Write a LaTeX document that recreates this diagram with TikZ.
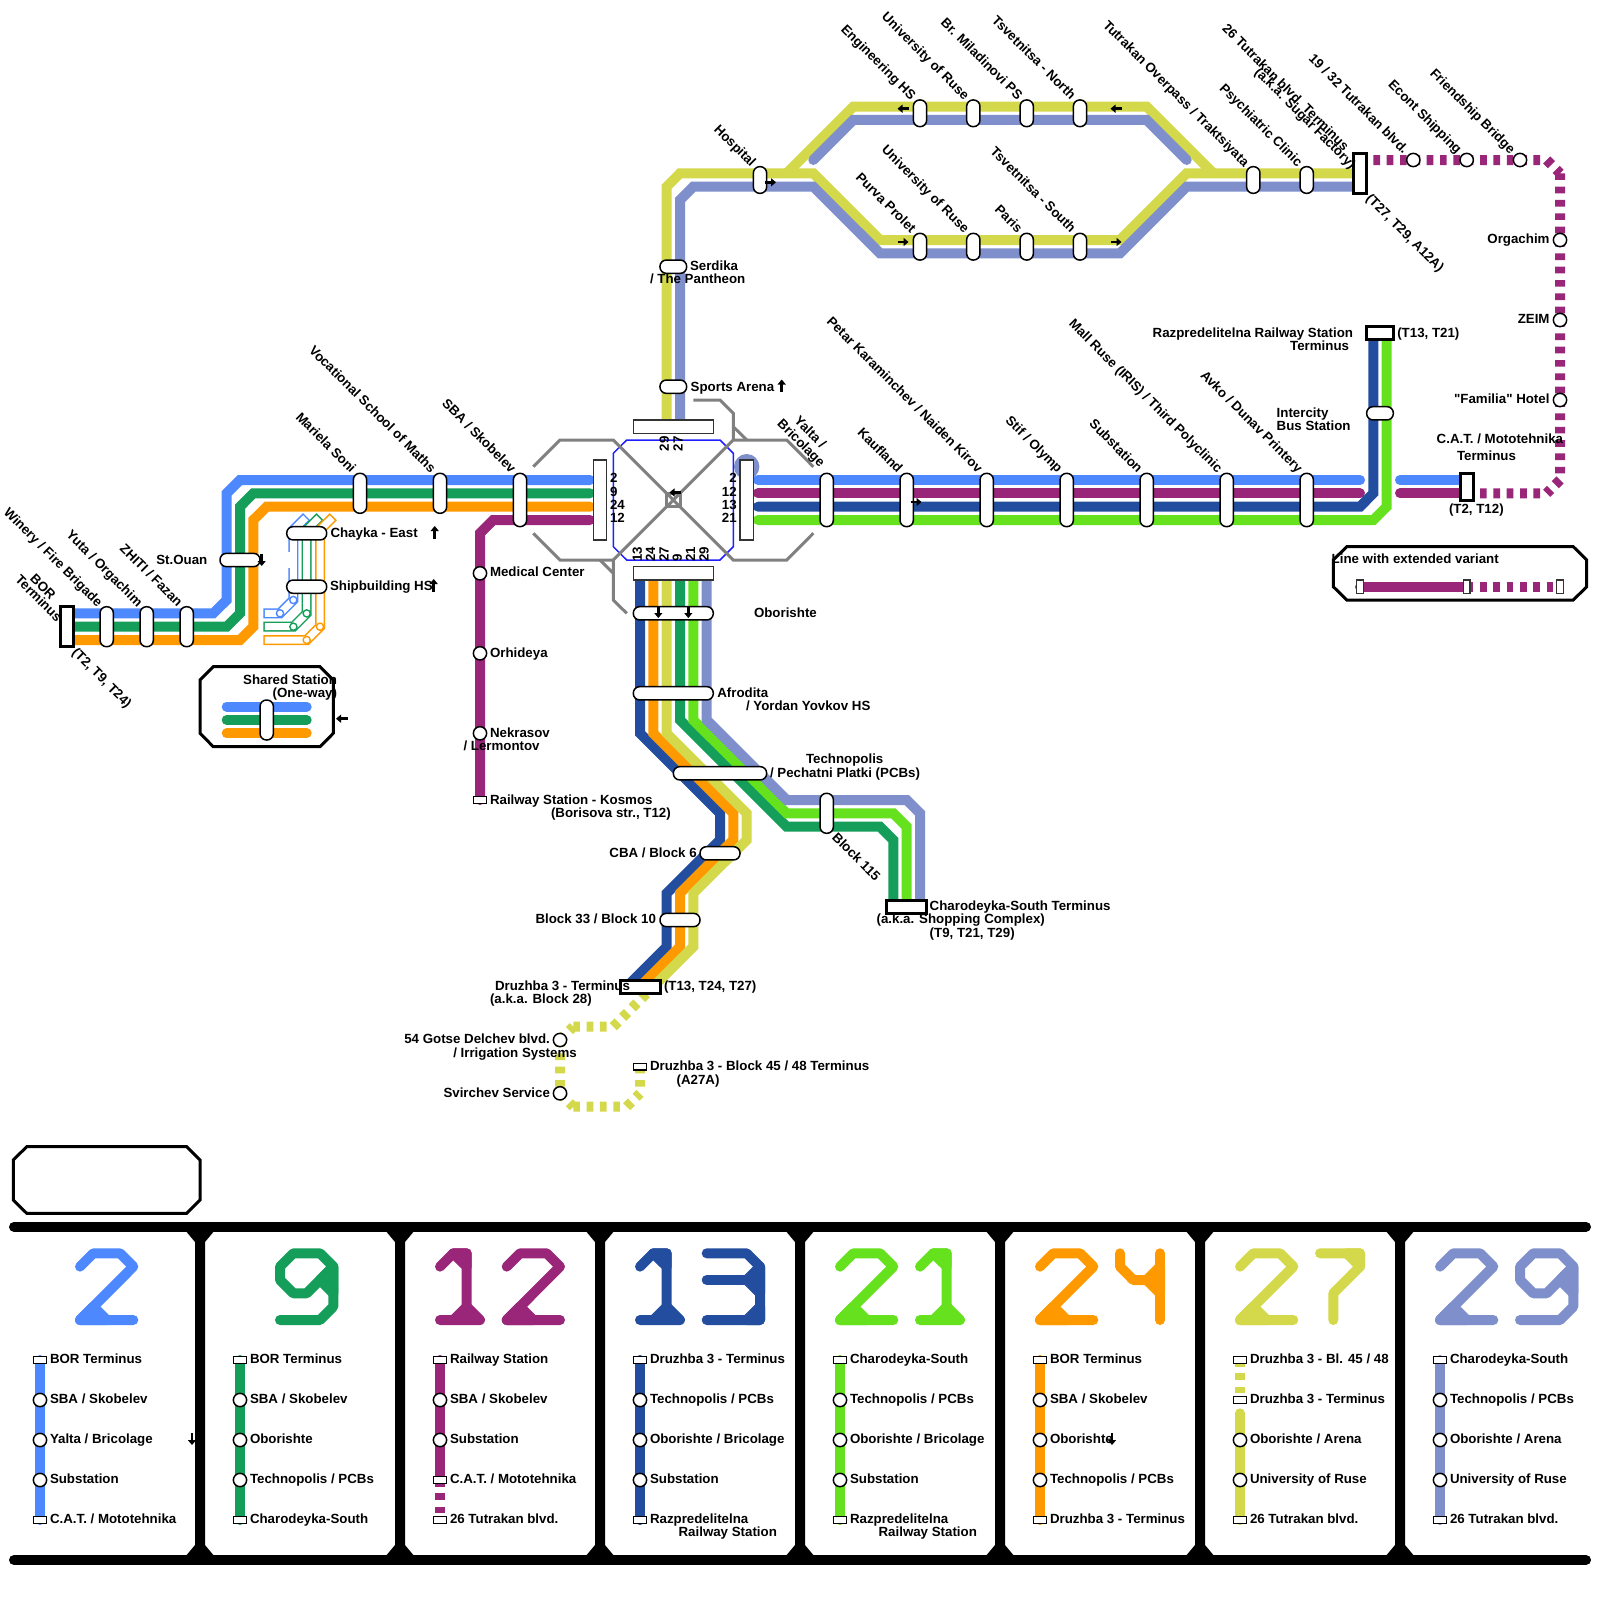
\documentclass[tikz,border=0pt]{standalone}
\usepackage{fontspec}
\setmainfont{Liberation Sans}[Ligatures=TeXOff]
\usepackage{tikz}
\usetikzlibrary{arrows.meta, calc}
\definecolor{cLtwo}{RGB}{77,136,255}
\definecolor{cLnine}{RGB}{21,158,90}
\definecolor{cLtwelve}{RGB}{153,38,120}
\definecolor{cLthirteen}{RGB}{35,78,160}
\definecolor{cLtwentyone}{RGB}{102,225,30}
\definecolor{cLtwentyfour}{RGB}{255,153,0}
\definecolor{cLtwentyseven}{RGB}{211,217,74}
\definecolor{cLtwentynine}{RGB}{127,143,204}
\definecolor{cHub}{RGB}{128,128,128}
\definecolor{cRing}{RGB}{30,30,255}
\tikzset{
	% route lines
	ln/.style       ={line width=10pt, line join=miter},
	lnround/.style  ={ln, line cap=round},
	lndash/.style   ={ln, dash pattern=on 6.67pt off 6.67pt},
	hubline/.style  ={draw=cHub, line width=3pt},
	frameoct/.style ={draw=black, line width=3pt, fill=white},
	onew/.style     ={-{Triangle[length=5pt,width=8pt]}, line width=2.5pt, black},
	% stations
	pill/.style     ={rectangle, rounded corners=6.4pt, draw=black, line width=1.5pt, fill=white, inner sep=0pt, outer sep=0pt, minimum width=13.3pt, minimum height=13.3pt},
	platf/.style    ={rectangle, draw=black!80, line width=1.5pt, fill=white, inner sep=0pt, outer sep=0pt, minimum width=13.3pt, minimum height=13.3pt},
	termb/.style    ={rectangle, draw=black, line width=3pt, fill=white, inner sep=0pt, outer sep=0pt, minimum width=13.3pt, minimum height=13.3pt},
	rterm/.style    ={rectangle, draw=black, line width=1.5pt, fill=white, inner sep=0pt, outer sep=0pt, minimum width=13.3pt, minimum height=6.67pt},
	rdot/.style     ={circle, draw=black, line width=1.5pt, fill=white, inner sep=0pt, outer sep=0pt, minimum size=13.3pt},
	% labels
	lbl/.style      ={inner sep=0pt, outer sep=0pt, font=\fontsize{13.3pt}{15pt}\selectfont\bfseries},
	lblh/.style     ={lbl, text height=11pt, text depth=0.2pt},
	lblw/.style     ={lblh, anchor=west},
	lble/.style     ={lblh, anchor=east},
	lblr/.style     ={lbl, text height=10.6pt, text depth=0.6pt, rotate=-45},
	diag/.style     ={lblr, anchor=east},
	diagw/.style    ={lblr, anchor=west},
	upn/.style      ={lbl, text height=9.6pt, text depth=2.8pt, anchor=west, rotate=90},
	% digits of the panels
	dg/.style       ={line width=10pt, line cap=round, line join=round},
	digtwo/.pic     ={\draw[dg] (0,13.3) -- (13.3,0) -- (40,0) -- (53.3,13.3) -- (0,66.7) -- (53.3,66.7); \filldraw[dg] (0,66.7) -- (13.3,53.3) -- (26.7,66.7) -- cycle;},
	dignine/.pic    ={\draw[dg] (0,66.7) -- (40,66.7) -- (53.3,53.3) -- (53.3,13.3) -- (40,0) -- (13.3,0) -- (0,13.3) -- (0,26.7) -- (13.3,40) -- (26.7,40) -- (53.3,13.3); \filldraw[dg] (53.3,13.3) -- (40,26.7) -- (53.3,40) -- cycle;},
	digone/.pic     ={\draw[dg] (0,13.3) -- (13.3,0) -- (26.7,0) -- (26.7,53.3); \filldraw[dg] (0,66.7) -- (40,66.7) -- (26.7,53.3) -- (13.3,66.7) -- cycle; \filldraw[dg] (13.3,0) -- (26.7,0) -- (26.7,13.3) -- cycle;},
	digthree/.pic   ={\draw[dg] (0,0) -- (40,0) -- (53.3,13.3) -- (53.3,66.7) -- (0,66.7); \draw[dg] (0,26.7) -- (40,26.7); \filldraw[dg] (53.3,13.3) -- (40,26.7) -- (53.3,40) -- cycle; \filldraw[dg] (40,66.7) -- (53.3,53.3) -- (53.3,66.7) -- cycle;},
	digfour/.pic    ={\draw[dg] (0,0) -- (0,13.3) -- (13.3,26.7) -- (26.7,26.7); \draw[dg] (40,0) -- (40,66.7); \filldraw[dg] (26.7,26.7) -- (40,13.3) -- (40,40) -- cycle;},
	digseven/.pic   ={\draw[dg] (0,0) -- (40,0) -- (40,13.3) -- (13.3,40) -- (13.3,66.7); \filldraw[dg] (26.7,0) -- (40,0) -- (40,13.3) -- cycle;},
}
\newcommand{\panelstops}[3]{%
	\foreach \nm/\yy/\kind/\txt in {#3} {
		\node[\kind] (stop#1\nm) at (#2,\yy) {};
		\node[lblw] (text#1\nm) at (#2+10,\yy-2) {\txt};
	}
}
\begin{document}
\begin{tikzpicture}[x=1pt, y=-1pt]
	\useasboundingbox (0,0) rectangle (1600,1600);
	\fill[white] (0,0) rectangle (1600,1600);

	% line 29 and 27, north side
	\draw[ln, cLtwentyseven] (666.7,425) -- (666.7,186.7) -- (680,173.3) -- (813.3,173.3) -- (880,240) -- (1120,240) -- (1186.7,173.3) -- (1360,173.3);
	\draw[ln, cLtwentyseven] (786.7,173.3) -- (853.3,106.7) -- (1146.7,106.7) -- (1213.3,173.3);
	\draw[ln, cLtwentynine] (680,425) -- (680,200) -- (693.3,186.7) -- (813.3,186.7) -- (880,253.3) -- (1120,253.3) -- (1186.7,186.7) -- (1360,186.7);
	\draw[lnround, cLtwentynine] (813.3,160) -- (853.3,120) -- (1146.7,120) -- (1186.7,160);

	% lines 2, 9, 24, 12, west side
	\draw[lnround, cLtwo] (67,613.3) -- (213.3,613.3) -- (226.7,600) -- (226.7,493.3) -- (240,480) -- (590,480);
	\draw[lnround, cLnine] (67,626.7) -- (226.7,626.7) -- (240,613.3) -- (240,506.7) -- (253.3,493.3) -- (590,493.3);
	\draw[lnround, cLtwentyfour] (67,640) -- (240,640) -- (253.3,626.7) -- (253.3,520) -- (266.7,506.7) -- (590,506.7);
	\draw[lnround, cLtwelve] (590,520) -- (493.3,520) -- (480,533.3) -- (480,800);

	% lines 2, 12, 13, 21, east side
	\fill[cLtwentynine] (746.7,466.7) circle (12.7);
	\draw[lnround, cLtwo] (758,480) -- (1360,480);
	\draw[lnround, cLtwo] (1400,480) -- (1466.7,480);
	\draw[lnround, cLtwelve] (758,493.3) -- (1360,493.3);
	\draw[lnround, cLtwelve] (1400,493.3) -- (1466.7,493.3);
	\draw[lnround, cLthirteen] (758,506.7) -- (1360,506.7) -- (1373.3,493.3) -- (1373.3,333);
	\draw[lnround, cLtwentyone] (758,520) -- (1373.3,520) -- (1386.7,506.7) -- (1386.7,333);

	% extended variants
	\draw[lndash, cLtwelve] (1360,160) -- (1546.7,160) (1546.7,160) -- (1560,173.3) (1560,173.3) -- (1560,480) (1560,480) -- (1546.7,493.3) (1466.7,493.3) -- (1546.7,493.3);
	\draw[lndash, cLtwentyseven] (613.3,1026.7) -- (653.3,986.7) (573.3,1026.7) -- (613.3,1026.7) (560,1040) -- (573.3,1026.7) (560,1040) -- (560,1093.3) (560,1093.3) -- (573.3,1106.7) (573.3,1106.7) -- (626.7,1106.7) (626.7,1106.7) -- (640,1093.3) (640,1066.7) -- (640,1093.3);

	% lines south of the hub
	\draw[ln, cLthirteen] (640,573) -- (640,733.3) -- (720,813.3) -- (720,840) -- (666.7,893.3) -- (666.7,946.7) -- (626.7,986.7);
	\draw[ln, cLtwentyfour] (653.3,573) -- (653.3,733.3) -- (733.3,813.3) -- (733.3,840) -- (680,893.3) -- (680,946.7) -- (640,986.7);
	\draw[ln, cLtwentyseven] (666.7,573) -- (666.7,733.3) -- (746.7,813.3) -- (746.7,840) -- (693.3,893.3) -- (693.3,946.7) -- (653.3,986.7);
	\draw[ln, cLnine] (680,573) -- (680,720) -- (786.7,826.7) -- (880,826.7) -- (893.3,840) -- (893.3,906);
	\draw[ln, cLtwentyone] (693.3,573) -- (693.3,720) -- (786.7,813.3) -- (893.3,813.3) -- (906.7,826.7) -- (906.7,906);
	\draw[ln, cLtwentynine] (706.7,573) -- (706.7,720) -- (786.7,800) -- (906.7,800) -- (920,813.3) -- (920,906);

	% hollow spurs at Chayka and Shipbuilding
	\foreach \cc/\xa/\yb in {cLtwo/293.3/613.3, cLnine/306.7/626.7, cLtwentyfour/320/640} {
		\draw[line width=10pt, \cc] (\xa+13.3,516.7) -- (\xa,530) -- (\xa,\yb-13.3) -- (\xa-13.3,\yb) -- (263.3,\yb);
		\draw[line width=7pt, white, shorten <=1.5pt, shorten >=1.5pt] (\xa+13.3,516.7) -- (\xa,530) -- (\xa,\yb-13.3) -- (\xa-13.3,\yb) -- (263.3,\yb);
		\filldraw[draw=\cc, fill=white, line width=1.4pt] (\xa,\yb-13.3) circle (3.6);
		\filldraw[draw=\cc, fill=white, line width=1.4pt] (\xa-13.3,\yb) circle (3.6);
	}
	\fill[white] (287,552) rectangle (291,568);

	% hub
	\draw[cRing, line width=1.5pt] (626.7,440) -- (720,440) -- (733.3,453.3) -- (733.3,546.7) -- (720,560) -- (626.7,560) -- (613.3,546.7) -- (613.3,453.3) -- cycle;
	\draw[hubline] (533.3,466.7) -- (560,440) -- (613.3,440) -- (673.3,500) -- (613.3,560) -- (560,560) -- (533.3,533.3);
	\draw[hubline] (813.3,466.7) -- (786.7,440) -- (733.3,440) -- (673.3,500) -- (733.3,560) -- (786.7,560) -- (813.3,533.3);
	\draw[hubline] (693.3,400) -- (720,400) -- (733.3,413.3) -- (733.3,440);
	\draw[hubline] (733.3,426.7) -- (746.7,440);
	\draw[hubline] (600,560) -- (613.3,573.3);
	\draw[hubline] (613.3,560) -- (613.3,600) -- (626.7,613.3);
	\draw[hubline, fill=white] (666.7,493.3) rectangle (680,506.7);
	\draw[hubline] (666.7,493.3) -- (680,506.7) (680,493.3) -- (666.7,506.7);

	\node[platf, minimum width=80pt] (hubN) at (673.3,426.7) {};
	\node[platf, minimum width=80pt] (hubS) at (673.3,573.3) {};
	\node[platf, minimum height=80pt] (hubW) at (600,500) {};
	\node[platf, minimum height=80pt] (hubE) at (746.7,500) {};

	% hub bay numbers
	\foreach \nm/\yy in {2/477.3, 9/490.7, 24/504, 12/517.3} \node[lblw] (bayW\nm) at (610,\yy) {\nm};
	\foreach \nm/\yy in {2/477.3, 12/490.7, 13/504, 21/517.3} \node[lble] (bayE\nm) at (736.7,\yy) {\nm};
	\foreach \nm/\xx in {29/665.5, 27/679.3} \node[upn] (bayN\nm) at (\xx,451) {\nm};
	\foreach \nm/\xx in {13/638.5, 24/651.8, 27/665.2, 9/678.5, 21/691.8, 29/705.2} \node[upn] (bayS\nm) at (\xx,561.7) {\nm};

	% stations, west
	\node[termb, minimum height=40pt] (stBor) at (66.7,626.7) {};
	\foreach \nm/\xx in {Winery/106.7, Yuta/146.7, Zhiti/186.7} \node[pill, minimum height=40pt] (st\nm) at (\xx,626.7) {};
	\node[pill, minimum width=40pt] (stOuan) at (240,560) {};
	\node[pill, minimum width=40pt] (stChayka) at (306.7,533.3) {};
	\node[pill, minimum width=40pt] (stShip) at (306.7,586.7) {};
	\node[pill, minimum height=40pt] (stMariela) at (360,493.3) {};
	\node[pill, minimum height=40pt] (stVocational) at (440,493.3) {};
	\node[pill, minimum height=53.3pt] (stSba) at (520,500) {};
	\foreach \nm/\yy in {Medical/573.3, Orhideya/653.3, Nekrasov/733.3} \node[rdot] (st\nm) at (480,\yy) {};
	\node[rterm] (stKosmos) at (480,800) {};

	% stations, north
	\node[pill, minimum width=26.7pt] (stSerdika) at (673.3,266.7) {};
	\node[pill, minimum width=26.7pt] (stSports) at (673.3,386.7) {};
	\node[pill, minimum height=26.7pt] (stHospital) at (760,180) {};
	\foreach \xx [count=\i] in {920, 973.3, 1026.7, 1080} {
		\node[pill, minimum height=26.7pt] (stUp\i) at (\xx,113.3) {};
		\node[pill, minimum height=26.7pt] (stLow\i) at (\xx,246.7) {};
	}
	\node[pill, minimum height=26.7pt] (stOverpass) at (1253.3,180) {};
	\node[pill, minimum height=26.7pt] (stPsych) at (1306.7,180) {};
	\node[termb, minimum height=40pt] (stTutrakan) at (1360,173.3) {};
	\foreach \nm/\xx in {Tutr/1413.3, Econt/1466.7, Bridge/1520} \node[rdot] (st\nm) at (\xx,160) {};
	\foreach \nm/\yy in {Orgachim/240, Zeim/320, Familia/400} \node[rdot] (st\nm) at (1560,\yy) {};

	% stations, east
	\foreach \nm/\xx in {Yalta/826.7, Kaufland/906.7, Petar/986.7, Stif/1066.7, Subst/1146.7, Mall/1226.7, Avko/1306.7} \node[pill, minimum height=53.3pt] (st\nm) at (\xx,500) {};
	\node[termb, minimum height=26.7pt] (stCat) at (1466.7,486.7) {};
	\node[termb, minimum width=26.7pt] (stRailway) at (1380,333.3) {};
	\node[pill, minimum width=26.7pt] (stIntercity) at (1380,413.3) {};

	% stations, south
	\node[pill, minimum width=80pt] (stOborishte) at (673.3,613.3) {};
	\node[pill, minimum width=80pt] (stAfrodita) at (673.3,693.3) {};
	\node[pill, minimum width=93.3pt] (stTechno) at (720,773.3) {};
	\node[pill, minimum height=40pt] (stBlockNorth) at (826.7,813.3) {};
	\node[pill, minimum width=40pt] (stCba) at (720,853.3) {};
	\node[pill, minimum width=40pt] (stBlockTen) at (680,920) {};
	\node[termb, minimum width=40pt] (stCharodeyka) at (906.7,906.7) {};
	\node[termb, minimum width=40pt] (stDruzhba) at (640,986.7) {};
	\node[rdot] (stGotse) at (560,1040) {};
	\node[rdot] (stSvirchev) at (560,1093.3) {};
	\node[rterm] (stBlockFortyFive) at (640,1066.7) {};

	% one-way marks
	\draw[onew] (261.7,553.5) -- (261.7,566);
	\draw[onew] (434.7,538.5) -- (434.7,526);
	\draw[onew] (433.7,591.5) -- (433.7,579);
	\draw[onew] (347.5,718.7) -- (336,718.7);
	\draw[onew] (680.5,492.5) -- (669.5,492.5);
	\draw[onew] (658.3,606) -- (658.3,618);
	\draw[onew] (688.3,606) -- (688.3,618);
	\draw[onew] (781.7,391.5) -- (781.7,379.5);
	\draw[onew] (765,182.3) -- (776,182.3);
	\draw[onew] (908.5,108.7) -- (897.5,108.7);
	\draw[onew] (1121.5,108.7) -- (1110.5,108.7);
	\draw[onew] (897.5,242) -- (908.5,242);
	\draw[onew] (1110.5,242) -- (1121.5,242);
	\draw[onew] (910.5,502) -- (921.5,502);
	\draw[onew] (192,1433) -- (192,1445);
	\draw[onew] (1112,1433) -- (1112,1445);

	% labels, west
	\node[lblr] (lbBor) at (43.3,586.7) {BOR};
	\node[lblr] (lbBorTwo) at (39,598) {Terminus};
	\node[diagw] (lbBorLines) at (75,650) {(T2, T9, T24)};
	\node[diag] (lbWinery) at (100.7,604) {Winery / Fire Brigade};
	\node[diag] (lbYuta) at (140.7,604) {Yuta / Orgachim};
	\node[diag] (lbZhiti) at (180.7,604) {ZHITI / Fazan};
	\node[lble] (lbOuan) at (207.3,558.7) {St.Ouan};
	\node[lblw] (lbChayka) at (330.5,531.7) {Chayka - East};
	\node[lblw] (lbShip) at (330,585.3) {Shipbuilding HS};
	\node[diag] (lbMariela) at (354,470) {Mariela Soni};
	\node[diag] (lbVocational) at (434,470) {Vocational School of Maths};
	\node[diag] (lbSba) at (514,470) {SBA / Skobelev};
	\node[lblw] (lbMedical) at (490,571.5) {Medical Center};
	\node[lblw] (lbOrhideya) at (490,652) {Orhideya};
	\node[lblw] (lbNekrasov) at (490,731.7) {Nekrasov};
	\node[lblw] (lbLermontov) at (463.5,745) {/ Lermontov};
	\node[lblw] (lbKosmos) at (490,798.7) {Railway Station - Kosmos};
	\node[lblw] (lbBorisova) at (551,812) {(Borisova str., T12)};

	% labels, north
	\node[lblw] (lbSerdika) at (690,265) {Serdika};
	\node[lblw] (lbPantheon) at (650,278.3) {/ The Pantheon};
	\node[lblw] (lbSports) at (690.7,385.7) {Sports Arena};
	\node[diag] (lbHospital) at (754,164) {Hospital};
	\node[diag] (lbEngineering) at (914,97) {Engineering HS};
	\node[diag] (lbUniA) at (967.3,97) {University of Ruse};
	\node[diag] (lbMiladinovi) at (1020.7,97) {Br. Miladinovi PS};
	\node[diag] (lbNorth) at (1074,97) {Tsvetnitsa - North};
	\node[diag] (lbPurva) at (914,230) {Purva Prolet};
	\node[diag] (lbUniB) at (967.3,230) {University of Ruse};
	\node[diag] (lbParis) at (1020.7,230) {Paris};
	\node[diag] (lbSouth) at (1074,230) {Tsvetnitsa - South};
	\node[diag] (lbOverpass) at (1247.3,164) {Tutrakan Overpass / Traktsiyata};
	\node[diag] (lbPsych) at (1300.7,164) {Psychiatric Clinic};
	\node[diag] (lbTutrakan) at (1347,148) {26 Tutrakan blvd. Terminus};
	\node[diag] (lbSugar) at (1354,166) {(a.k.a. Sugar Factory)};
	\node[diagw] (lbTutrakanLines) at (1369,196) {(T27, T29, A12A)};
	\node[diag] (lbThirtyTwo) at (1406.5,151) {19 / 32 Tutrakan blvd.};
	\node[diag] (lbEcont) at (1460,151) {Econt Shipping};
	\node[diag] (lbBridge) at (1513.3,151) {Friendship Bridge};
	\node[lble] (lbOrgachim) at (1549.5,238.3) {Orgachim};
	\node[lble] (lbZeim) at (1549.5,318.3) {ZEIM};
	\node[lble] (lbFamilia) at (1549.5,398.3) {"Familia" Hotel};

	% labels, east
	\node[lblr] (lbYalta) at (810.7,431.7) {Yalta /};
	\node[lblr] (lbBricolage) at (801.7,442.7) {Bricolage};
	\node[diag] (lbKaufland) at (900.7,470) {Kaufland};
	\node[diag] (lbPetar) at (980.7,470) {Petar Karaminchev / Naiden Kirov};
	\node[diag] (lbStif) at (1060.7,470) {Stif / Olymp};
	\node[diag] (lbSubst) at (1140.7,470) {Substation};
	\node[diag] (lbMall) at (1220.7,470) {Mall Ruse (IRIS) / Third Polyclinic};
	\node[diag] (lbAvko) at (1300.7,470) {Avko / Dunav Printery};
	\node[lble] (lbRailway) at (1353,331.7) {Razpredelitelna Railway Station};
	\node[lble] (lbRailwayTwo) at (1349,345) {Terminus};
	\node[lblw] (lbRailwayLines) at (1397.3,331.7) {(T13, T21)};
	\node[lblw] (lbIntercity) at (1276.7,411.7) {Intercity};
	\node[lblw] (lbBusStation) at (1276.7,425) {Bus Station};
	\node[lblw] (lbCat) at (1436.7,438.3) {C.A.T. / Mototehnika};
	\node[lblw] (lbCatTwo) at (1457,455) {Terminus};
	\node[lblw] (lbCatLines) at (1449,508) {(T2, T12)};

	% labels, south
	\node[lblw] (lbOborishte) at (754,611.7) {Oborishte};
	\node[lblw] (lbAfrodita) at (717.3,691.7) {Afrodita};
	\node[lblw] (lbYovkov) at (746,705) {/ Yordan Yovkov HS};
	\node[lblw] (lbTechno) at (806,758.3) {Technopolis};
	\node[lblw] (lbPechatni) at (770,771.7) {/ Pechatni Platki (PCBs)};
	\node[diagw] (lbBlockNorth) at (835,835) {Block 115};
	\node[lble] (lbCba) at (696.7,851.7) {CBA / Block 6};
	\node[lble] (lbBlockTen) at (656,918.3) {Block 33 / Block 10};
	\node[lblw] (lbCharodeyka) at (929.7,905) {Charodeyka-South Terminus};
	\node[lblw] (lbShopping) at (876.6,918.5) {(a.k.a. Shopping Complex)};
	\node[lblw] (lbCharLines) at (929.7,931.6) {(T9, T21, T29)};
	\node[lblw] (lbDruzhba) at (495,985) {Druzhba 3 - Terminus};
	\node[lblw] (lbBlockTwenty) at (490,998.3) {(a.k.a. Block 28)};
	\node[lblw] (lbDruzhbaLines) at (664,985) {(T13, T24, T27)};
	\node[lblw] (lbGotse) at (404.3,1038.3) {54 Gotse Delchev blvd.};
	\node[lblw] (lbIrrigation) at (453.3,1051.7) {/ Irrigation Systems};
	\node[lble] (lbSvirchev) at (550,1091.7) {Svirchev Service};
	\node[lblw] (lbBlockFortyFive) at (650,1065) {Druzhba 3 - Block 45 / 48 Terminus};
	\node[lblw] (lbAtwoSeven) at (676.6,1078.6) {(A27A)};

	% legend, shared station
	\draw[frameoct, fill=white] (200,680) -- (213.3,666.7) -- (320,666.7) -- (333.3,680) -- (333.3,733.3) -- (320,746.7) -- (213.3,746.7) -- (200,733.3) -- cycle;
	\draw[lnround, cLtwo] (226.7,706.7) -- (306.7,706.7);
	\draw[lnround, cLnine] (226.7,720) -- (306.7,720);
	\draw[lnround, cLtwentyfour] (226.7,733.3) -- (306.7,733.3);
	\node[pill, minimum height=40pt] (legShared) at (266.7,720) {};
	\node[lble] (lbShared) at (337,679) {Shared Station};
	\node[lble] (lbOneWay) at (337,692) {(One-way)};

	% legend, extended variant
	\draw[frameoct, fill=white] (1333.3,560) -- (1346.7,546.7) -- (1573.3,546.7) -- (1586.7,560) -- (1586.7,586.7) -- (1573.3,600) -- (1346.7,600) -- (1333.3,586.7) -- cycle;
	\draw[lnround, cLtwelve] (1360,586.7) -- (1466.7,586.7);
	\draw[lndash, cLtwelve] (1466.7,586.7) -- (1560,586.7);
	\foreach \nm/\xx in {a/1360, b/1466.7, c/1560} \node[platf, minimum width=6.67pt] (legExt\nm) at (\xx,586.7) {};
	\node[lblw] (lbExtended) at (1331.7,558.3) {Line with extended variant};

	% empty box
	\draw[frameoct] (13.3,1160) -- (26.7,1146.7) -- (186.7,1146.7) -- (200,1160) -- (200,1200) -- (186.7,1213.3) -- (26.7,1213.3) -- (13.3,1200) -- cycle;

	% route panels frame
	\draw[line width=10pt, line cap=round, black] (14,1226.7) -- (1586,1226.7);
	\draw[line width=10pt, line cap=round, black] (14,1560) -- (1586,1560);
	\foreach \xx in {200, 400, ..., 1400} {
		\fill[black] (\xx-15,1230) -- (\xx+15,1230) -- (\xx+5,1242) -- (\xx+5,1545) -- (\xx+15,1557) -- (\xx-15,1557) -- (\xx-5,1545) -- (\xx-5,1242) -- cycle;
	}

	% route numbers
	\pic[cLtwo] at (80,1253.3) {digtwo};
	\pic[cLnine] at (280,1253.3) {dignine};
	\pic[cLtwelve] at (440,1253.3) {digone};
	\pic[cLtwelve] at (506.7,1253.3) {digtwo};
	\pic[cLthirteen] at (640,1253.3) {digone};
	\pic[cLthirteen] at (706.7,1253.3) {digthree};
	\pic[cLtwentyone] at (840,1253.3) {digtwo};
	\pic[cLtwentyone] at (920,1253.3) {digone};
	\pic[cLtwentyfour] at (1040,1253.3) {digtwo};
	\pic[cLtwentyfour] at (1120,1253.3) {digfour};
	\pic[cLtwentyseven] at (1240,1253.3) {digtwo};
	\pic[cLtwentyseven] at (1320,1253.3) {digseven};
	\pic[cLtwentynine] at (1440,1253.3) {digtwo};
	\pic[cLtwentynine] at (1520,1253.3) {dignine};

	% route strips
	\draw[lnround, cLtwo] (40,1360) -- (40,1520);
	\draw[lnround, cLnine] (240,1360) -- (240,1520);
	\draw[lnround, cLtwelve] (440,1360) -- (440,1480);
	\draw[lndash, cLtwelve] (440,1480) -- (440,1520);
	\draw[lnround, cLthirteen] (640,1360) -- (640,1520);
	\draw[lnround, cLtwentyone] (840,1360) -- (840,1520);
	\draw[lnround, cLtwentyfour] (1040,1360) -- (1040,1520);
	\draw[lndash, cLtwentyseven] (1240,1360) -- (1240,1400);
	\draw[lnround, cLtwentyseven] (1240,1413.3) -- (1240,1520);
	\draw[lnround, cLtwentynine] (1440,1360) -- (1440,1520);

	\panelstops{A}{40}{a/1360/rterm/{BOR Terminus}, b/1400/rdot/{SBA / Skobelev}, c/1440/rdot/{Yalta / Bricolage}, d/1480/rdot/{Substation}, e/1520/rterm/{C.A.T. / Mototehnika}}
	\panelstops{B}{240}{a/1360/rterm/{BOR Terminus}, b/1400/rdot/{SBA / Skobelev}, c/1440/rdot/{Oborishte}, d/1480/rdot/{Technopolis / PCBs}, e/1520/rterm/{Charodeyka-South}}
	\panelstops{C}{440}{a/1360/rterm/{Railway Station}, b/1400/rdot/{SBA / Skobelev}, c/1440/rdot/{Substation}, d/1480/rterm/{C.A.T. / Mototehnika}, e/1520/rterm/{26 Tutrakan blvd.}}
	\panelstops{D}{640}{a/1360/rterm/{Druzhba 3 - Terminus}, b/1400/rdot/{Technopolis / PCBs}, c/1440/rdot/{Oborishte / Bricolage}, d/1480/rdot/{Substation}, e/1520/rterm/{Razpredelitelna}}
	\panelstops{E}{840}{a/1360/rterm/{Charodeyka-South}, b/1400/rdot/{Technopolis / PCBs}, c/1440/rdot/{Oborishte / Bricolage}, d/1480/rdot/{Substation}, e/1520/rterm/{Razpredelitelna}}
	\panelstops{F}{1040}{a/1360/rterm/{BOR Terminus}, b/1400/rdot/{SBA / Skobelev}, c/1440/rdot/{Oborishte}, d/1480/rdot/{Technopolis / PCBs}, e/1520/rterm/{Druzhba 3 - Terminus}}
	\panelstops{G}{1240}{a/1360/rterm/{Druzhba 3 - Bl. 45 / 48}, b/1400/rterm/{Druzhba 3 - Terminus}, c/1440/rdot/{Oborishte / Arena}, d/1480/rdot/{University of Ruse}, e/1520/rterm/{26 Tutrakan blvd.}}
	\panelstops{H}{1440}{a/1360/rterm/{Charodeyka-South}, b/1400/rdot/{Technopolis / PCBs}, c/1440/rdot/{Oborishte / Arena}, d/1480/rdot/{University of Ruse}, e/1520/rterm/{26 Tutrakan blvd.}}
	\node[lblw] (textDf) at (678.6,1531.5) {Railway Station};
	\node[lblw] (textEf) at (878.6,1531.5) {Railway Station};
\end{tikzpicture}
\end{document}
